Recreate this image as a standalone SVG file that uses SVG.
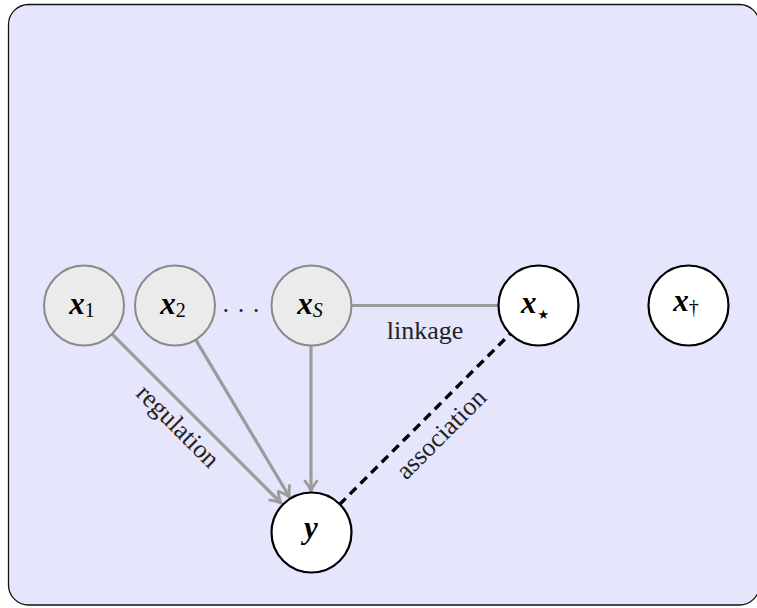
<svg xmlns="http://www.w3.org/2000/svg" width="757" height="608" viewBox="0 0 757 608">
  <style>
    .obs { fill: #ebebeb; stroke: #8a8a8a; stroke-width: 2; }
    .lat { fill: #ffffff; stroke: #000000; stroke-width: 2.2; }
    .math { font-family: "Liberation Serif", "DejaVu Serif", serif; font-size: 31px; font-weight: bold; font-style: italic; fill: #000; }
    .sub { font-size: 20px; font-weight: normal; font-style: normal; }
    .subi { font-size: 20px; font-weight: normal; font-style: italic; }
    .lbl { font-family: "Liberation Serif", "DejaVu Serif", serif; font-size: 26px; fill: #222; }
    .gray { stroke: #9b9b9b; stroke-width: 3.2; fill: none; }
    .dash { stroke: #000; stroke-width: 3.4; stroke-dasharray: 9 6; fill: none; }
  </style>
  <defs>
    <marker id="head" viewBox="-12 -8 14 16" refX="0" refY="0" markerWidth="14" markerHeight="16" markerUnits="userSpaceOnUse" orient="auto">
      <path d="M-10,-6 Q-4,-1.5 0,0 Q-4,1.5 -10,6" fill="none" stroke="#9b9b9b" stroke-width="2.8" stroke-linecap="round"/>
    </marker>
  </defs>

  <!-- panel -->
  <rect x="8.5" y="4.5" width="751" height="600.5" rx="20" ry="20" fill="#e5e5fb" stroke="#111" stroke-width="1.3"/>

  <!-- connectors -->
  <g id="edges">
    <line class="gray" x1="112.3" y1="334.3" x2="281" y2="503" marker-end="url(#head)"/>
    <line class="gray" x1="195.5" y1="339.4" x2="289.5" y2="497" marker-end="url(#head)"/>
    <line class="gray" x1="311" y1="346" x2="311" y2="491" marker-end="url(#head)"/>
    <line class="gray" x1="352" y1="305.5" x2="498" y2="305.5"/>
    <line class="dash" x1="339.3" y1="504.7" x2="510.2" y2="333.8"/>
    <text class="lbl" x="425" y="339" text-anchor="middle">linkage</text>
    <text class="lbl" transform="translate(172,432) rotate(45)" text-anchor="middle">regulation</text>
    <text class="lbl" transform="translate(447,440) rotate(-45)" text-anchor="middle">association</text>
  </g>

  <!-- nodes -->
  <g id="x1">
    <circle class="obs" cx="84" cy="305.5" r="40"/>
    <text class="math" x="82" y="314" text-anchor="middle">x<tspan class="sub" dy="3">1</tspan></text>
  </g>
  <g id="x2">
    <circle class="obs" cx="175" cy="305.5" r="40"/>
    <text class="math" x="173" y="314" text-anchor="middle">x<tspan class="sub" dy="3">2</tspan></text>
  </g>
  <g id="dots">
    <text class="lbl" x="241" y="319" text-anchor="middle" fill="#000">· · ·</text>
  </g>
  <g id="xS">
    <circle class="obs" cx="311.5" cy="305.5" r="40"/>
    <text class="math" x="310" y="314" text-anchor="middle">x<tspan class="subi" dy="3">S</tspan></text>
  </g>
  <g id="xstar">
    <circle class="lat" cx="538.5" cy="305.5" r="40"/>
    <text class="math" x="535" y="313" text-anchor="middle">x<tspan font-family="DejaVu Sans, sans-serif" font-size="13" font-weight="normal" font-style="normal" dy="6" dx="1">★</tspan></text>
  </g>
  <g id="xdagger">
    <circle class="lat" cx="688.5" cy="305.5" r="40"/>
    <text class="math" x="686" y="311" text-anchor="middle">x<tspan class="sub" dy="3" fill="#000">†</tspan></text>
  </g>
  <g id="y">
    <circle class="lat" cx="311.5" cy="532.5" r="40"/>
    <text class="math" x="311" y="538" text-anchor="middle">y</text>
  </g>
</svg>
